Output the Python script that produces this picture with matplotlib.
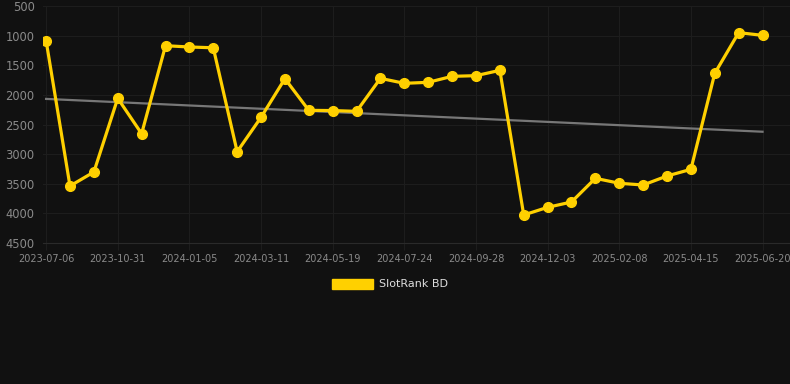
import numpy as np
import matplotlib.pyplot as plt
from matplotlib.patches import Patch

# rank values, one per snapshot (lower is better, axis inverted)
rank = [1085, 3538, 3302, 2058, 2655, 1170, 1192, 1205, 2959, 2379,
        1727, 2261, 2265, 2278, 1721, 1805, 1788, 1687, 1676, 1586,
        4027, 3898, 3808, 3408, 3492, 3521, 3369, 3257, 1636, 950, 995]
tick_labels = ['2023-07-06', '2023-10-31', '2024-01-05', '2024-03-11',
               '2024-05-19', '2024-07-24', '2024-09-28', '2024-12-03',
               '2025-02-08', '2025-04-15', '2025-06-20']
y_ticks = [500, 1000, 1500, 2000, 2500, 3000, 3500, 4000, 4500]

bg = '#111111'
gridc = '#1d1d1d'
txt = '#8a8a8a'
gold = '#FFD000'

x = np.arange(len(rank))
fit = np.polyfit(x, rank, 1)
trend = np.polyval(fit, x)

fig = plt.figure(figsize=(7.9, 3.84), dpi=100, facecolor=bg)
ax = fig.add_axes([43/790, 1-243/384, 1-43/790, 237/384])
ax.set_facecolor(bg)

ax.plot(x, trend, color='#777777', linewidth=1.6, zorder=2)
ax.plot(x, rank, color=gold, linewidth=2.3, marker='o', markersize=7, zorder=3)

ax.set_ylim(4500, 500)
ax.set_xlim(-0.13, 31.15)
ax.set_yticks(y_ticks)
ax.set_yticklabels([str(v) for v in y_ticks])
ax.set_xticks(x[::3])
ax.set_xticklabels(tick_labels)

ax.grid(True, color=gridc, linewidth=0.8)
ax.set_axisbelow(True)
for s in ax.spines.values():
    s.set_visible(False)
ax.spines['bottom'].set_visible(True)
ax.spines['bottom'].set_color('#2a2a2a')
ax.spines['bottom'].set_linewidth(0.8)
ax.tick_params(axis='y', length=0, pad=6, labelsize=8.3, labelcolor=txt)
ax.tick_params(axis='x', length=5, color=gridc, pad=3, labelsize=7, labelcolor=txt)

fig.legend(handles=[Patch(facecolor=gold, edgecolor=gold)], labels=['SlotRank BD'],
           loc='center', bbox_to_anchor=(390/790, 1-284/384), frameon=False,
           handlelength=3.7, handleheight=1.0, handletextpad=0.55,
           fontsize=8, labelcolor='#dddddd')

fig.savefig('out.png', dpi=100, facecolor=bg)
